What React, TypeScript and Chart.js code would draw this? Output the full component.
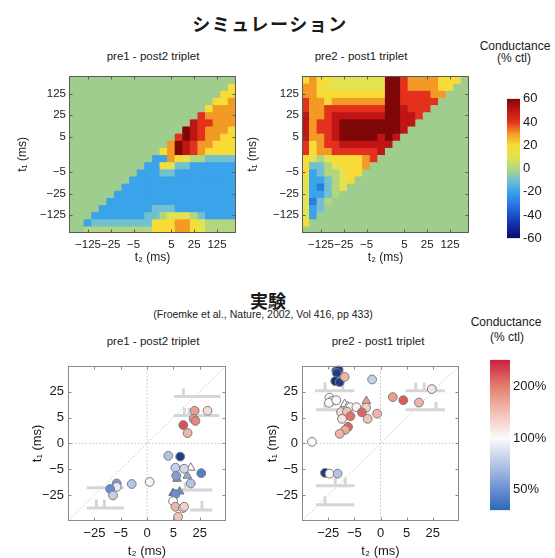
import React, { useEffect, useRef } from 'react';
import { Chart, registerables } from 'chart.js';

Chart.register(...registerables);

const FONT = "'Liberation Sans', Arial, Helvetica, sans-serif";
const CJK_FONT = "'Noto Sans CJK JP', 'Noto Sans CJK SC', sans-serif";
const INK = '#1a1a1a';

// ---------------- Simulation heat maps ----------------
const HEAT_GRID_SIZE = 22;
const HEAT_TICK_CELLS = [2, 5, 8, 13, 16, 19];
const HEAT_TICK_LABELS = ['−125', '−25', '−5', '5', '25', '125'];
// level codes -> conductance change (% ctl)
const LEVEL_CODES = 'abcdefghijklm';
const LEVEL_VALUES = [-60, -50, -40, -30, -20, -10, 0, 10, 20, 30, 40, 50, 60];

// rows from top (t1 = +) to bottom (t1 = -); data is right-aligned (empty cells on the left)
const SIM_PRE1_POST2 = [
  '',
  'i',
  'ii',
  'iij',
  'ijjj',
  'kjjjj',
  'lkkjjj',
  'mlkjjji',
  'kmlkjjii',
  'jmlkjjiii',
  'ijmlkjiiii',
  'eejihggffff',
  'eeihffeeeeee',
  'eeeffeeeeeeee',
  'eeeeeeeeeeeeee',
  'eeeeeeeeeeeeeee',
  'eeeeeeeeeeeeeeee',
  'eeeeeeeeeeeeeeeee',
  'eeeeeeefffeeeeeeee',
  'eeeeeeeffghhhgfeeee',
  'effffffffiiijjihgggg',
  'gggggggggiiijjihgggg',
];

// rows from top to bottom; data is left-aligned (empty cells on the right)
const SIM_PRE2_POST1 = [
  'ijiihhhhhhhmmkjjjjiii',
  'jjihhhhhhhhmmkjjjjii',
  'jjiiiiiiiiimmkkkkjj',
  'kjjijjjjjjjmmkkkkk',
  'kjjkkkkkkkkmmlkkk',
  'ljjklllllllmmllk',
  'ljkklmmmmmmmmll',
  'ljkklmmmmmmmml',
  'ljjklmmmmmlml',
  'kijkklllllll',
  'kijjkkkkkkl',
  'ihghiiiijk',
  'iffghiiij',
  'iefgghii',
  'heefghi',
  'hedfgh',
  'heefg',
  'hdfg',
  'hef',
  'he',
  'i',
  '',
];

const HEAT_CBAR_MIN = -60;
const HEAT_CBAR_MAX = 60;
const HEAT_CBAR_STEP = 20;
const HEAT_STOPS: [number, string][] = [
  [-60, '#0a0a6e'],
  [-50, '#13299e'],
  [-40, '#1c4fcf'],
  [-30, '#2a7be3'],
  [-20, '#3aa3ea'],
  [-10, '#72c1d0'],
  [0, '#b2d67e'],
  [10, '#e3e352'],
  [20, '#f8dc35'],
  [30, '#f39a26'],
  [40, '#e3311e'],
  [50, '#c01515'],
  [60, '#7e0707'],
];
const EMPTY_CELL = '#9fcd8d';

// ---------------- Experiment scatter plots ----------------
// axis positions in tick units: -2 = -25 ms, -1 = -5 ms, 0, 1 = 5 ms, 2 = 25 ms
const EXP_TICK_POS = [-2, -1, 0, 1, 2];
const EXP_TICK_LABELS = ['−25', '−5', '0', '5', '25'];

const EXP_PRE1_POST2_T2 = [1.81, 2.3, 1.77, 1.84, 1.38, 1.54, 0.81, 1.26, 1.08, 1.41, 1.66, 1.11, 1.14, 1.53, 2.06, 1.66, 0.99, 1.08, 1.24, 0.99, 1.08, 1.36, 1.41, 1.18, 0.1, -0.58, -1.15, -1.15, -1.4, -1.29];
const EXP_PRE1_POST2_T1 = [1.26, 1.26, 0.95, 0.87, 0.71, 0.4, -0.48, -0.51, -0.94, -0.98, -0.94, -1.25, -1.37, -1.25, -1.15, -1.55, -1.92, -1.96, -1.86, -2.23, -2.45, -2.5, -2.45, -2.84, -1.49, -1.57, -1.55, -1.68, -1.76, -2.01];
const EXP_PRE1_POST2_G = [170, 120, 170, 190, 240, 150, 70, 30, 75, 80, 100, 55, 50, 60, 45, 70, 35, 50, 50, 100, 150, 115, 130, 140, 105, 70, 55, 90, 50, 75];
const EXP_PRE1_POST2_MARK = ['o', 'o', 'o', 'o', 'o', 'o', 'o', 'o', 'o', 'o', 't', 'o', 't', 't', 'o', 'o', 't', 'o', 't', 'o', 'o', 'o', 'o', 'o', 'o', 'o', 'o', 'o', 'o', 'o'];

const EXP_PRE2_POST1_T2 = [-1.69, -1.6, -1.67, -1.73, -1.56, -1.37, -0.32, 1.96, 0.47, 0.87, 1.47, -1.95, -1.86, -1.97, -1.69, -1.37, -1.26, -1.15, -0.92, -0.54, -0.55, -1.51, -1.28, -0.71, -1.15, -1.47, -0.49, -0.13, -1.24, -1.35, -1.56, -2.62, -2.12, -1.95, -1.64];
const EXP_PRE2_POST1_T1 = [2.8, 2.84, 2.72, 2.41, 2.37, 2.57, 2.47, 2.1, 1.79, 1.67, 1.58, 1.77, 1.64, 1.57, 1.67, 1.52, 1.44, 1.4, 1.4, 1.64, 1.38, 1.21, 1.23, 1.2, 1.05, 0.95, 0.95, 1.15, 0.64, 0.52, 0.37, 0.06, -1.14, -1.17, -1.17];
const EXP_PRE2_POST1_G = [30, 30, 30, 28, 30, 150, 75, 115, 170, 230, 150, 100, 100, 100, 100, 100, 100, 100, 105, 170, 130, 125, 140, 220, 210, 115, 140, 150, 220, 160, 150, 100, 30, 100, 70];
const EXP_PRE2_POST1_MARK = ['o', 'o', 'o', 'o', 'o', 'o', 'o', 'o', 'o', 'o', 'o', 'o', 'o', 'o', 'o', 't', 't', 'o', 'o', 't', 'o', 'o', 'o', 'o', 'o', 'o', 'o', 'o', 'o', 'o', 'o', 'o', 'o', 'o', 'o'];

// spike-pattern pictograms: segments [x1, y1, x2, y2] in axis units
const GLYPH_PRE1_POST2 = [
  [1.02, 1.81, 2.79, 1.81], [1.38, 1.81, 1.38, 2.12],
  [1.02, 1.08, 2.75, 1.08], [1.42, 1.08, 1.42, 1.38], [1.6, 1.08, 1.6, 1.38],
  [-2.29, -1.71, -0.88, -1.71], [-1.25, -1.71, -1.25, -1.43],
  [-2.29, -2.5, -0.88, -2.5], [-1.92, -2.5, -1.92, -2.17], [-1.62, -2.5, -1.62, -2.17],
  [1.32, -1.8, 2.48, -1.8], [1.45, -1.8, 1.45, -1.5],
  [1.63, -2.57, 2.48, -2.57], [2.09, -2.57, 2.09, -2.23],
];
const GLYPH_PRE2_POST1 = [
  [-2.5, 2.04, -1.0, 2.04], [-2.12, 2.04, -2.12, 2.35], [-1.44, 2.04, -1.44, 2.35],
  [-2.46, 1.3, -1.0, 1.3], [-2.12, 1.3, -2.12, 1.6], [-1.35, 1.3, -1.35, 1.6],
  [0.96, 2.04, 2.46, 2.04], [1.35, 2.04, 1.35, 2.35], [1.67, 2.04, 1.67, 2.35],
  [0.96, 1.3, 2.46, 1.3], [2.12, 1.3, 2.12, 1.6],
  [-2.46, -1.64, -1.0, -1.64], [-1.73, -1.64, -1.73, -1.32], [-1.35, -1.64, -1.35, -1.32],
  [-2.46, -2.37, -1.0, -2.37], [-2.12, -2.37, -2.12, -2.04],
];

const COND_CBAR_MIN = 38;
const COND_CBAR_MAX = 287;
const COND_CBAR_TICKS = [50, 100, 200];
const COND_STOPS: [number, string][] = [
  [25, '#101c5e'],
  [38, '#2d67bd'],
  [50, '#6a8dcf'],
  [70, '#b4c4e6'],
  [100, '#fbfbfb'],
  [140, '#f2c2b8'],
  [200, '#e2806e'],
  [287, '#cc2040'],
  [400, '#8c0c20'],
];

// ---------------- helpers ----------------
function hexRgb(h: string) {
  const n = parseInt(h.slice(1), 16);
  return [(n >> 16) & 255, (n >> 8) & 255, n & 255];
}
function mixColor(stops: [number, string][], v: number, f: (x: number) => number = (x) => x) {
  const t = f(v);
  if (t <= f(stops[0][0])) return stops[0][1];
  for (let i = 1; i < stops.length; i++) {
    const a = f(stops[i - 1][0]);
    const b = f(stops[i][0]);
    if (t <= b) {
      const u = (t - a) / (b - a);
      const c0 = hexRgb(stops[i - 1][1]);
      const c1 = hexRgb(stops[i][1]);
      const c = c0.map((x, k) => Math.round(x + (c1[k] - x) * u));
      return `rgb(${c[0]},${c[1]},${c[2]})`;
    }
  }
  return stops[stops.length - 1][1];
}
const heatColor = (v: number) => mixColor(HEAT_STOPS, v);
const condColor = (g: number) => mixColor(COND_STOPS, g, Math.log);

function decodeRows(rows: string[], alignRight: boolean): (number | null)[][] {
  return rows.map((row) => {
    const full = alignRight ? row.padStart(HEAT_GRID_SIZE, '.') : row.padEnd(HEAT_GRID_SIZE, '.');
    return full.split('').map((ch) => {
      const k = LEVEL_CODES.indexOf(ch);
      return k < 0 ? null : LEVEL_VALUES[k];
    });
  });
}

const framePlugin = {
  id: 'frame',
  afterDatasetsDraw(chart: any, _args: any, opts: any) {
    if (!opts || !opts.color) return;
    const { ctx, chartArea: a } = chart;
    ctx.save();
    ctx.strokeStyle = opts.color;
    ctx.lineWidth = 1;
    const l = Math.round(a.left) + 0.5;
    const t = Math.round(a.top) + 0.5;
    const r = Math.round(a.right) - 0.5;
    const b = Math.round(a.bottom) - 0.5;
    ctx.strokeRect(l, t, r - l, b - t);
    const len = opts.tick || 0;
    if (len) {
      ctx.beginPath();
      const xs = chart.scales.x;
      const ys = chart.scales.y;
      xs.ticks.forEach((_t: any, i: number) => {
        const px = Math.round(xs.getPixelForTick(i)) + 0.5;
        ctx.moveTo(px, b);
        ctx.lineTo(px, b - len);
        ctx.moveTo(px, t);
        ctx.lineTo(px, t + len);
      });
      ys.ticks.forEach((_t: any, i: number) => {
        const py = Math.round(ys.getPixelForTick(i)) + 0.5;
        ctx.moveTo(l, py);
        ctx.lineTo(l + len, py);
        ctx.moveTo(r, py);
        ctx.lineTo(r - len, py);
      });
      ctx.stroke();
    }
    ctx.restore();
  },
};

function heatmapConfig(rows: string[], alignRight: boolean, yAxisWidth: number) {
  const matrix = decodeRows(rows, alignRight);
  const n = matrix.length;
  const labels = Array.from({ length: HEAT_GRID_SIZE }, (_, i) => String(i));
  const tickFont = { family: FONT, size: 11.5 };
  const titleFont = { family: FONT, size: 12 };
  return {
    type: 'bar',
    data: {
      labels,
      datasets: matrix.map((row, r) => {
        const yc = n - 1 - r;
        return {
          data: row.map(() => [yc - 0.5, yc + 0.5]),
          backgroundColor: row.map((v) => (v === null ? EMPTY_CELL : heatColor(v))),
          borderWidth: 0,
          barPercentage: 1,
          categoryPercentage: 1,
          grouped: false,
          inflateAmount: 0.6,
        };
      }),
    },
    options: {
      responsive: false,
      animation: false,
      devicePixelRatio: 1,
      events: [],
      layout: { padding: { top: 3, right: 0, bottom: 0, left: 0 } },
      plugins: { legend: { display: false }, tooltip: { enabled: false }, frame: { color: '#5a5a5a', tick: 3 } },
      scales: {
        x: {
          type: 'category',
          offset: true,
          grid: { display: false, drawTicks: false },
          border: { display: false },
          afterBuildTicks: (s: any) => {
            s.ticks = HEAT_TICK_CELLS.map((v) => ({ value: v }));
          },
          afterFit: (s: any) => {
            s.height = 32;
          },
          ticks: {
            autoSkip: false,
            maxRotation: 0,
            padding: 5,
            color: INK,
            font: tickFont,
            callback: (v: number) => HEAT_TICK_LABELS[HEAT_TICK_CELLS.indexOf(v)] ?? '',
          },
          title: { display: true, text: 't₂ (ms)', padding: 0, color: INK, font: titleFont },
        },
        y: {
          type: 'linear',
          min: -0.5,
          max: n - 0.5,
          grid: { display: false, drawTicks: false },
          border: { display: false },
          afterBuildTicks: (s: any) => {
            s.ticks = HEAT_TICK_CELLS.map((v) => ({ value: v }));
          },
          afterFit: (s: any) => {
            s.width = yAxisWidth;
          },
          ticks: {
            padding: 3,
            color: INK,
            font: tickFont,
            callback: (v: number) => HEAT_TICK_LABELS[HEAT_TICK_CELLS.indexOf(v)] ?? '',
          },
          title: { display: true, text: 't₁ (ms)', padding: 0, color: INK, font: titleFont },
        },
      },
    },
    plugins: [framePlugin],
  };
}

function scatterConfig(
  t2: number[],
  t1: number[],
  g: number[],
  marks: string[],
  glyphs: number[][],
  yAxisWidth: number
) {
  const pts = t2.map((x, i) => ({ x, y: t1[i], g: g[i], m: marks[i] }));
  const circles = pts.filter((p) => p.m === 'o');
  const tris = pts.filter((p) => p.m === 't');
  const refLine = (data: { x: number; y: number }[]) => ({
    data,
    showLine: true,
    borderColor: '#c4c4c4',
    borderWidth: 1,
    borderDash: [1.5, 2],
    pointRadius: 0,
    order: 30,
  });
  const datasets: any[] = [
    {
      data: circles.map((p) => ({ x: p.x, y: p.y })),
      pointStyle: 'circle',
      pointRadius: 4.4,
      pointBackgroundColor: circles.map((p) => condColor(p.g)),
      pointBorderColor: '#7c7c7c',
      pointBorderWidth: 1,
      order: 0,
    },
    {
      data: tris.map((p) => ({ x: p.x, y: p.y })),
      pointStyle: 'triangle',
      pointRadius: 5,
      pointBackgroundColor: tris.map((p) => condColor(p.g)),
      pointBorderColor: '#7c7c7c',
      pointBorderWidth: 1,
      order: 1,
    },
    ...glyphs.map((s) => ({
      data: [
        { x: s[0], y: s[1] },
        { x: s[2], y: s[3] },
      ],
      showLine: true,
      borderColor: '#d6d6d6',
      borderWidth: 3,
      borderCapStyle: 'butt',
      pointRadius: 0,
      order: 10,
    })),
    refLine([
      { x: -3, y: -3 },
      { x: 3, y: 3 },
    ]),
    refLine([
      { x: 0, y: -3 },
      { x: 0, y: 3 },
    ]),
    refLine([
      { x: -3, y: 0 },
      { x: 3, y: 0 },
    ]),
  ];
  const tickFont = { family: FONT, size: 13 };
  const titleFont = { family: FONT, size: 13 };
  const axis = (title: string, fit: (s: any) => void) => ({
    type: 'linear',
    min: -3,
    max: 3,
    grid: { display: false, drawTicks: false },
    border: { display: false },
    afterBuildTicks: (s: any) => {
      s.ticks = EXP_TICK_POS.map((v) => ({ value: v }));
    },
    afterFit: fit,
    ticks: {
      autoSkip: false,
      maxRotation: 0,
      color: INK,
      font: tickFont,
      callback: (v: number) => EXP_TICK_LABELS[EXP_TICK_POS.indexOf(v)] ?? '',
    },
    title: { display: true, text: title, padding: 0, color: INK, font: titleFont },
  });
  const x: any = axis('t₂ (ms)', (s: any) => {
    s.height = 38;
  });
  x.ticks.padding = 5;
  const y: any = axis('t₁ (ms)', (s: any) => {
    s.width = yAxisWidth;
  });
  y.ticks.padding = 4;
  return {
    type: 'scatter',
    data: { datasets },
    options: {
      responsive: false,
      animation: false,
      devicePixelRatio: 1,
      events: [],
      layout: { padding: { top: 3, right: 0, bottom: 0, left: 0 } },
      plugins: { legend: { display: false }, tooltip: { enabled: false }, frame: { color: '#8a8a8a', tick: 3 } },
      scales: { x, y },
    },
    plugins: [framePlugin],
  };
}

function heatColorbarConfig() {
  return {
    type: 'bar',
    data: {
      labels: ['cbar'],
      datasets: [
        {
          data: [[HEAT_CBAR_MIN, HEAT_CBAR_MAX]],
          barPercentage: 1,
          categoryPercentage: 1,
          borderWidth: 0,
          backgroundColor: (ctx: any) => {
            const chart = ctx.chart;
            const ys = chart.scales && chart.scales.y;
            if (!chart.chartArea || !ys) return EMPTY_CELL;
            const y0 = ys.getPixelForValue(HEAT_CBAR_MIN);
            const y1 = ys.getPixelForValue(HEAT_CBAR_MAX);
            const grad = chart.ctx.createLinearGradient(0, y0, 0, y1);
            HEAT_STOPS.forEach(([v, c]) =>
              grad.addColorStop((v - HEAT_CBAR_MIN) / (HEAT_CBAR_MAX - HEAT_CBAR_MIN), c)
            );
            return grad;
          },
        },
      ],
    },
    options: {
      responsive: false,
      animation: false,
      devicePixelRatio: 1,
      events: [],
      layout: { padding: { top: 8, bottom: 8, left: 0, right: 0 } },
      plugins: { legend: { display: false }, tooltip: { enabled: false } },
      scales: {
        x: { display: false },
        y: {
          position: 'right',
          min: HEAT_CBAR_MIN,
          max: HEAT_CBAR_MAX,
          grid: { display: false, drawTicks: false },
          border: { display: false },
          afterFit: (s: any) => {
            s.width = 35;
          },
          ticks: { stepSize: HEAT_CBAR_STEP, padding: 3, color: INK, font: { family: FONT, size: 13 } },
        },
      },
    },
  };
}

function condColorbarConfig() {
  return {
    type: 'bar',
    data: {
      labels: ['cbar'],
      datasets: [
        {
          data: [[COND_CBAR_MIN, COND_CBAR_MAX]],
          barPercentage: 1,
          categoryPercentage: 1,
          borderWidth: 0,
          backgroundColor: (ctx: any) => {
            const chart = ctx.chart;
            const ys = chart.scales && chart.scales.y;
            if (!chart.chartArea || !ys) return '#ffffff';
            const lo = COND_STOPS[0][0];
            const hi = COND_STOPS[COND_STOPS.length - 1][0];
            const grad = chart.ctx.createLinearGradient(0, ys.getPixelForValue(lo), 0, ys.getPixelForValue(hi));
            COND_STOPS.forEach(([v, c]) =>
              grad.addColorStop((Math.log(v) - Math.log(lo)) / (Math.log(hi) - Math.log(lo)), c)
            );
            return grad;
          },
        },
      ],
    },
    options: {
      responsive: false,
      animation: false,
      devicePixelRatio: 1,
      events: [],
      layout: { padding: { top: 6, bottom: 6, left: 0, right: 0 } },
      plugins: { legend: { display: false }, tooltip: { enabled: false } },
      scales: {
        x: { display: false },
        y: {
          type: 'logarithmic',
          position: 'right',
          min: COND_CBAR_MIN,
          max: COND_CBAR_MAX,
          grid: { display: false, drawTicks: false },
          border: { display: false },
          afterBuildTicks: (s: any) => {
            s.ticks = COND_CBAR_TICKS.map((v) => ({ value: v }));
          },
          afterFit: (s: any) => {
            s.width = 45;
          },
          ticks: {
            padding: 3,
            color: INK,
            font: { family: FONT, size: 13 },
            callback: (v: number) => `${v}%`,
          },
        },
      },
    },
  };
}

// ---------------- components ----------------
function ChartBox({
  left,
  top,
  width,
  height,
  make,
}: {
  left: number;
  top: number;
  width: number;
  height: number;
  make: () => any;
}) {
  const ref = useRef<HTMLCanvasElement>(null);
  useEffect(() => {
    if (!ref.current) return;
    const chart = new Chart(ref.current, make());
    return () => chart.destroy();
  }, []);
  return (
    <canvas
      ref={ref}
      width={width}
      height={height}
      style={{ position: 'absolute', left, top, width, height, display: 'block' }}
    />
  );
}

function Label({
  x,
  y,
  text,
  size,
  bold,
  family,
  spacing,
}: {
  x: number;
  y: number;
  text: string;
  size: number;
  bold?: boolean;
  family?: string;
  spacing?: number;
}) {
  return (
    <div
      style={{
        position: 'absolute',
        left: x,
        top: y,
        transform: 'translate(-50%, -50%)',
        whiteSpace: 'nowrap',
        fontSize: size,
        fontWeight: bold ? 700 : 400,
        fontFamily: family ?? FONT,
        letterSpacing: spacing ?? 0,
        lineHeight: 1,
        color: INK,
      }}
    >
      {text}
    </div>
  );
}

export default function App() {
  return (
    <div
      style={{
        position: 'fixed',
        left: 0,
        top: 0,
        width: 555,
        height: 558,
        overflow: 'hidden',
        background: '#ffffff',
      }}
    >
      <Label x={270} y={23} text="シミュレーション" size={18} bold family={CJK_FONT} spacing={1.5} />
      <Label x={153} y={57} text="pre1 - post2 triplet" size={11.5} />
      <Label x={361} y={57} text="pre2 - post1 triplet" size={11.5} />
      <Label x={515} y={46} text="Conductance" size={12} />
      <Label x={514} y={58} text="(% ctl)" size={12} />

      <ChartBox left={15} top={66} width={221} height={199} make={() => heatmapConfig(SIM_PRE1_POST2, true, 54)} />
      <ChartBox left={245} top={66} width={224} height={199} make={() => heatmapConfig(SIM_PRE2_POST1, false, 57)} />
      <ChartBox left={507} top={88} width={48} height={161} make={heatColorbarConfig} />

      <Label x={268} y={300} text="実験" size={18} bold family={CJK_FONT} />
      <Label x={263} y={314} text="(Froemke et al., Nature, 2002, Vol 416, pp 433)" size={10.5} />
      <Label x={153} y={342} text="pre1 - post2 triplet" size={11.5} />
      <Label x={378} y={342} text="pre2 - post1 triplet" size={11.5} />
      <Label x={506} y={322} text="Conductance" size={12} />
      <Label x={507} y={337} text="(% ctl)" size={12} />

      <ChartBox
        left={30}
        top={354}
        width={202}
        height={205}
        make={() =>
          scatterConfig(EXP_PRE1_POST2_T2, EXP_PRE1_POST2_T1, EXP_PRE1_POST2_G, EXP_PRE1_POST2_MARK, GLYPH_PRE1_POST2, 38)
        }
      />
      <ChartBox
        left={265}
        top={354}
        width={200}
        height={205}
        make={() =>
          scatterConfig(EXP_PRE2_POST1_T2, EXP_PRE2_POST1_T1, EXP_PRE2_POST1_G, EXP_PRE2_POST1_MARK, GLYPH_PRE2_POST1, 37)
        }
      />
      <ChartBox left={490} top={349} width={65} height={172} make={condColorbarConfig} />
    </div>
  );
}
